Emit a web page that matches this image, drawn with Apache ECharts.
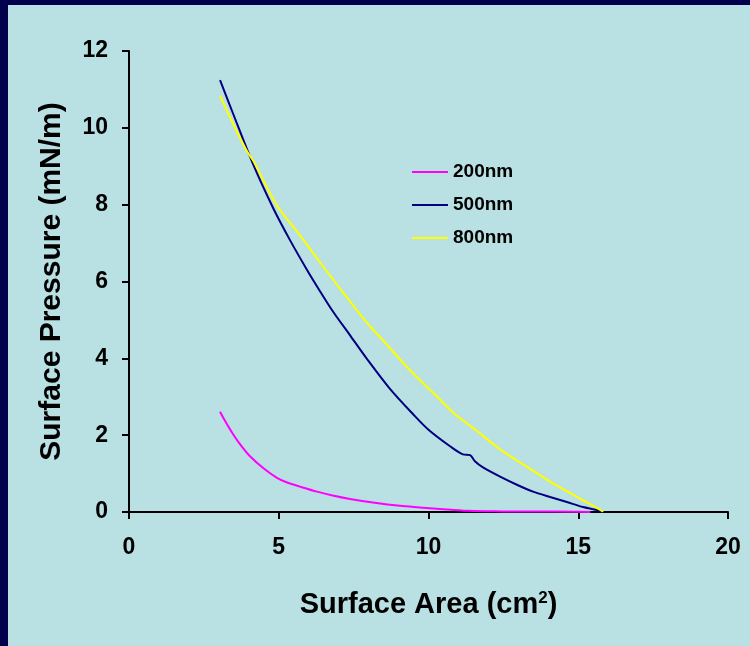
<!DOCTYPE html>
<html>
<head>
<meta charset="utf-8">
<script src="https://cdn.jsdelivr.net/npm/echarts@6/dist/echarts.min.js"></script>
<style>
html,body{margin:0;padding:0;width:750px;height:646px;background:#00004d;overflow:hidden;}
#chart{position:absolute;left:8px;top:5px;width:742px;height:641px;background:#b9e0e3;}
</style>
</head>
<body>
<div id="chart"></div>
<script>
var seriesNames = ['200nm', '500nm', '800nm'];
var seriesColors = ['#ff00ff', '#000080', '#ffff00'];

var area200 = [3.04, 3.2, 3.47, 3.75, 4.04, 4.5, 4.94, 5.3, 5.71, 6.28, 6.8, 7.38, 8.2, 9.05, 9.7, 10.38, 11.29, 12.2, 13.05, 14.2, 15.4];
var pressure200 = [2.61, 2.38, 2.03, 1.72, 1.45, 1.13, 0.89, 0.76, 0.66, 0.53, 0.43, 0.34, 0.24, 0.16, 0.12, 0.08, 0.03, 0.02, 0.01, 0.01, 0.0];

var area500 = [3.04, 3.48, 4.15, 4.82, 5.38, 5.93, 6.32, 6.81, 7.4, 7.95, 8.7, 9.48, 10.0, 10.72, 11.15, 11.39, 11.55, 11.82, 12.39, 12.95, 13.49, 14.06, 14.62, 15.16, 15.63, 15.75];
var pressure500 = [11.24, 10.36, 9.04, 7.9, 7.07, 6.32, 5.82, 5.22, 4.58, 3.98, 3.22, 2.55, 2.14, 1.71, 1.50, 1.48, 1.32, 1.16, 0.92, 0.71, 0.53, 0.39, 0.26, 0.13, 0.05, 0.0];

var area800 = [3.04, 3.48, 3.94, 4.16, 4.93, 5.71, 6.38, 7.1, 7.95, 8.5, 9.48, 10.2, 10.88, 11.6, 12.39, 13.2, 14.06, 14.9, 15.79, 15.82];
var pressure800 = [10.84, 10.1, 9.39, 9.13, 7.99, 7.20, 6.5, 5.76, 4.92, 4.45, 3.61, 3.07, 2.55, 2.12, 1.63, 1.22, 0.79, 0.42, 0.03, 0.0];

var xTicks = [0, 5, 10, 15, 20];
var yTicks = [0, 2, 4, 6, 8, 10, 12];

function pairs(xs, ys) { return xs.map(function (x, i) { return [x, ys[i]]; }); }
var allData = [pairs(area200, pressure200), pairs(area500, pressure500), pairs(area800, pressure800)];

var font = 'Liberation Sans, Arial, sans-serif';
var chart = echarts.init(document.getElementById('chart'));
chart.setOption({
  backgroundColor: '#b9e0e3',
  animation: false,
  grid: { left: 121, top: 46, right: 22, bottom: 134, containLabel: false },
  legend: {
    orient: 'vertical', left: 399, top: 152,
    itemWidth: 36, itemHeight: 2, itemGap: 13,
    icon: 'rect',
    textStyle: { fontFamily: font, fontWeight: 'bold', fontSize: 19, color: '#000', lineHeight: 20 },
    data: seriesNames.map(function (n, i) { return { name: n, itemStyle: { color: seriesColors[i] } }; })
  },
  xAxis: {
    type: 'value', min: xTicks[0], max: xTicks[xTicks.length - 1], interval: 5,
    axisLine: { lineStyle: { color: '#000', width: 2 } },
    axisTick: { show: true, length: 7, lineStyle: { color: '#000', width: 2 } },
    splitLine: { show: false },
    axisLabel: { margin: 24, color: '#000', fontFamily: font, fontWeight: 'bold', fontSize: 23 },
    name: 'Surface Area (cm{sup|2})',
    nameLocation: 'middle', nameGap: 78,
    nameTextStyle: {
      fontFamily: font, fontWeight: 'bold', fontSize: 29, color: '#000',
      rich: { sup: { fontFamily: font, fontWeight: 'bold', fontSize: 17, color: '#000', verticalAlign: 'top', lineHeight: 14 } }
    }
  },
  yAxis: {
    type: 'value', min: yTicks[0], max: yTicks[yTicks.length - 1], interval: 2,
    axisLine: { show: true, lineStyle: { color: '#000', width: 2 } },
    axisTick: { show: true, length: 7, lineStyle: { color: '#000', width: 2 } },
    splitLine: { show: false },
    axisLabel: { margin: 21, color: '#000', fontFamily: font, fontWeight: 'bold', fontSize: 23 },
    name: 'Surface Pressure (mN/m)',
    nameLocation: 'middle', nameGap: 62, nameRotate: 90,
    nameTextStyle: { fontFamily: font, fontWeight: 'bold', fontSize: 30, color: '#000' }
  },
  series: seriesNames.map(function (n, i) {
    return {
      name: n, type: 'line', data: allData[i], showSymbol: false, smooth: 0.3,
      lineStyle: { color: seriesColors[i], width: 2 },
      itemStyle: { color: seriesColors[i] }
    };
  })
});
</script>
</body>
</html>
